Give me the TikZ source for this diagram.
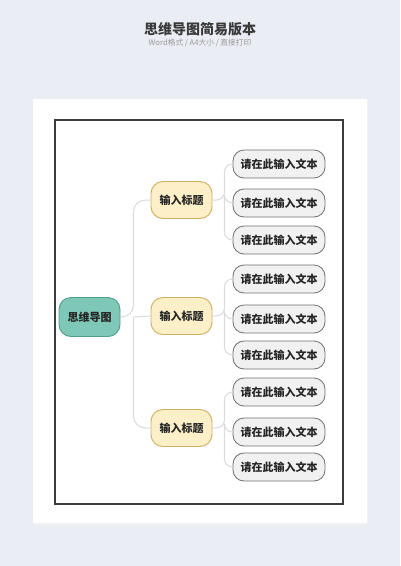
\documentclass[tikz,border=0pt]{standalone}
\usepackage{fontspec}
\setmainfont{Noto Sans CJK SC}
\definecolor{bgc}{HTML}{EAEDF3}
\definecolor{titlec}{HTML}{3A3A3A}
\definecolor{subc}{HTML}{9A9A9A}
\definecolor{framec}{HTML}{3C3C3C}
\definecolor{rootfill}{HTML}{7FC7B6}
\definecolor{rootdraw}{HTML}{4E9E8B}
\definecolor{midfill}{HTML}{FDF0C9}
\definecolor{middraw}{HTML}{CFAE62}
\definecolor{leaffill}{HTML}{F1F1F1}
\definecolor{leafdraw}{HTML}{707070}
\definecolor{connc}{HTML}{DADADA}
\tikzset{
  rootbox/.style={draw=rootdraw, fill=rootfill, line width=0.9pt, rounded corners=12pt,
    minimum width=61pt, minimum height=39pt, font=\bfseries\fontsize{11}{12}\selectfont, text=black!85},
  midbox/.style={draw=middraw, fill=midfill, line width=0.9pt, rounded corners=12pt,
    minimum width=61pt, minimum height=37pt, font=\bfseries\fontsize{11}{12}\selectfont, text=black!85},
  leafbox/.style={draw=leafdraw, fill=leaffill, line width=0.8pt, rounded corners=11pt,
    minimum width=92pt, minimum height=28pt, font=\bfseries\fontsize{11}{12}\selectfont, text=black!85},
  conn/.style={draw=connc, line width=1pt, rounded corners=12pt},
  connb/.style={draw=connc, line width=1pt, rounded corners=8pt}
}
\begin{document}
\begin{tikzpicture}[x=1pt,y=-1pt]
\useasboundingbox (0,0) rectangle (400,566);
\fill[bgc] (0,0) rectangle (400,566);
\fill[black!6] (33,100) rectangle (368,525);
\fill[white] (33,99) rectangle (367,523);
\draw[framec, line width=1.1pt] (55,120) rectangle (343,504);
\node (title) at (200,29) {\bfseries\color{titlec}\fontsize{14}{15}\selectfont 思维导图简易版本};
\node (sub) at (200,42.5) {\color{subc}\fontsize{7.7}{9}\selectfont Word格式 / A4大小 / 直接打印};

\node[rootbox] (root) at (89.5,317) {思维导图};
\node[midbox] (m1) at (181.5,200) {输入标题};
\node[midbox] (m2) at (181.5,316) {输入标题};
\node[midbox] (m3) at (181.5,428) {输入标题};

\node[leafbox] (l11) at (279,164) {请在此输入文本};
\node[leafbox] (l12) at (279,203) {请在此输入文本};
\node[leafbox] (l13) at (279,240) {请在此输入文本};
\node[leafbox] (l21) at (279,279) {请在此输入文本};
\node[leafbox] (l22) at (279,319) {请在此输入文本};
\node[leafbox] (l23) at (279,355) {请在此输入文本};
\node[leafbox] (l31) at (279,392) {请在此输入文本};
\node[leafbox] (l32) at (279,432) {请在此输入文本};
\node[leafbox] (l33) at (279,467) {请在此输入文本};

\coordinate (rj) at ([xshift=13pt]root.east);
\draw[conn] (root.east) -- (rj) |- (m1.west);
\draw[conn] (rj) |- (m3.west);
\draw[conn] (rj) -- (m2.west);

\foreach \m/\a/\b/\c in {m1/l11/l12/l13, m2/l21/l22/l23, m3/l31/l32/l33}{
  \coordinate (\m j) at ([xshift=12pt]\m.east);
  \draw[connb] (\m.east) -- (\m j) |- (\a.west);
  \draw[connb] (\m j) |- (\c.west);
  \draw[connb] (\m j) |- (\b.west);
}
\end{tikzpicture}
\end{document}
